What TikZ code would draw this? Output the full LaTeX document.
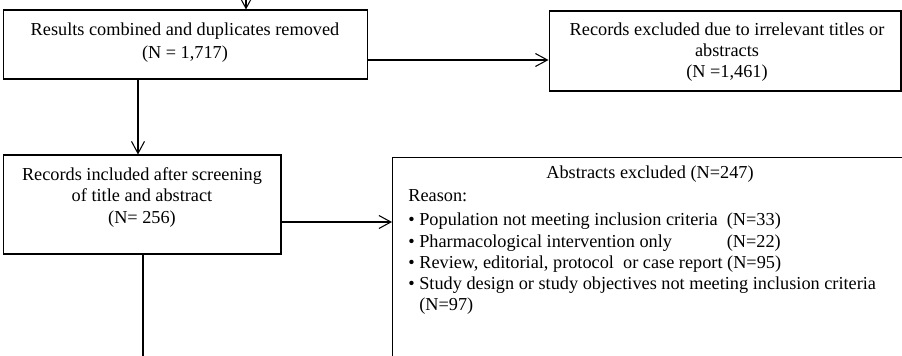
\documentclass[tikz,border=0pt]{standalone}
\usepackage{fontspec}
\setmainfont{Liberation Serif}
\usetikzlibrary{arrows.meta,positioning}
\begin{document}
\begin{tikzpicture}[x=0.02cm,y=-0.02cm]
\tikzstyle{box}=[draw,shape=rectangle,inner sep=0pt,line width=0.6pt]
\tikzstyle{txt}=[inner sep=0pt,font=\fontsize{10.4}{12}\selectfont]
\tikzstyle{arr}=[line width=0.6pt,-{Straight Barb[length=2.4mm,width=2.6mm]}]
\useasboundingbox (0,0) rectangle (902,355);
\clip (0,0) rectangle (902,355);

% boxes
\path (185.5,44.5) node[box,minimum width=7.3cm,minimum height=1.38cm](comb){}
      (725,51) node[box,minimum width=7.04cm,minimum height=1.6cm](irrel){}
      (142,204.5) node[box,minimum width=5.56cm,minimum height=1.98cm](incl){}
      (650,260) node[box,minimum width=10.3cm,minimum height=4.1cm](excl){};

% texts
\path (185,43) node[txt,align=center](combtxt){Results combined and duplicates removed\\[1pt](N = 1,717)};
\path (727,52) node[txt,align=center](irreltxt){Records excluded due to irrelevant titles or\\abstracts\\(N =1,461)};
\path (142,197.5) node[txt,align=center](incltxt){Records included after screening\\of title and abstract\\(N= 256)};
\path (650,178) node[txt,anchor=base](hdr){Abstracts excluded (N=247)};
\path (408,189) node[txt,anchor=north west,align=left](why){Reason:\\[2pt]
• Population not meeting inclusion criteria\ \ (N=33)\\
• \makebox[6.15cm][l]{Pharmacological intervention only}(N=22)\\
• Review, editorial, protocol\ \ or case report (N=95)\\
• Study design or study objectives not meeting inclusion criteria\\
\phantom{• }(N=97)};

% connectors
\coordinate (top) at (246,-10);
\coordinate (r1) at (368,60);
\coordinate (d1) at (138,0);
\coordinate (r2) at (281,222);
\coordinate (d2) at (143,365);
\draw[arr] (top) -- (top |- comb.north);
\draw[arr] (r1) -- (r1 -| irrel.west);
\draw[arr] (comb.south -| d1) -- (incl.north -| d1);
\draw[arr] (r2) -- (r2 -| excl.west);
\draw[line width=0.6pt] (incl.south -| d2) -- (d2);
\end{tikzpicture}
\end{document}
